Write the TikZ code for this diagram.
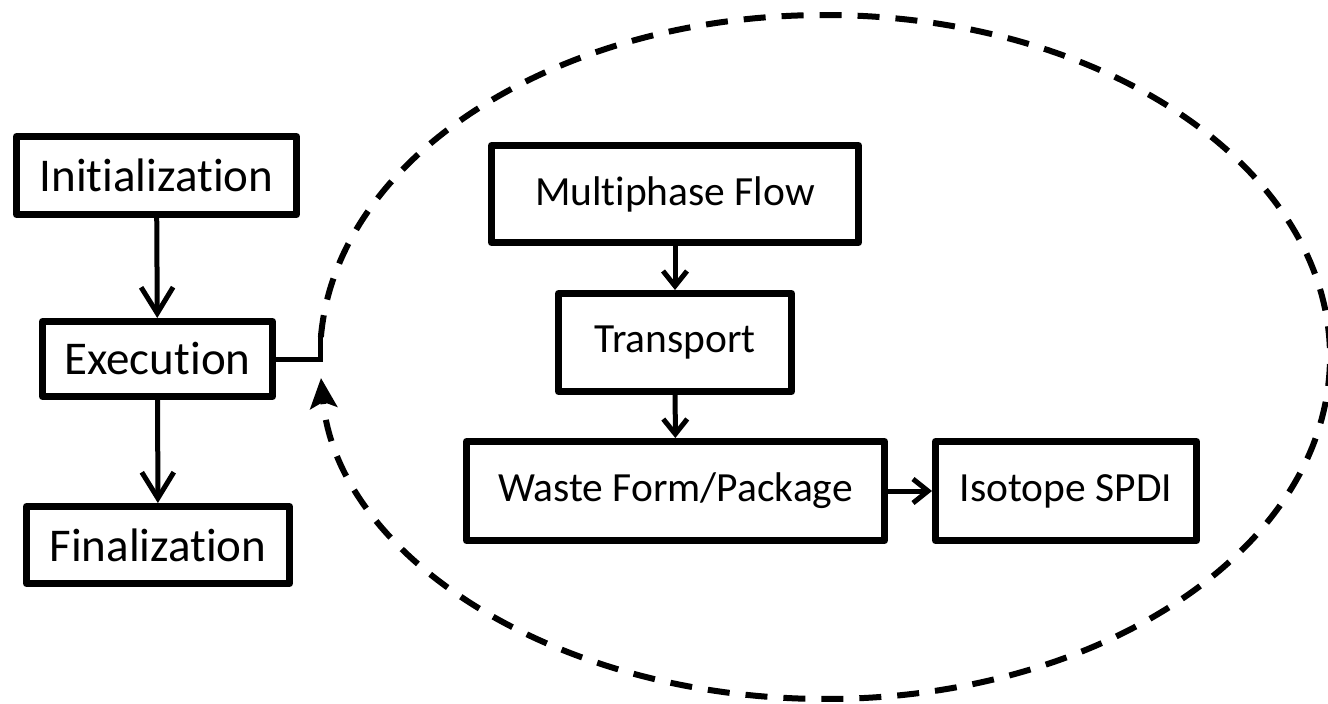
\documentclass[tikz,border=0pt]{standalone}
\usepackage{fontspec}
\setmainfont{Carlito}[Ligatures={NoCommon}]
\usetikzlibrary{arrows.meta}
\newcommand{\nolig}{\kern0pt }
\begin{document}
\begin{tikzpicture}[x=1pt,y=-1pt,
  box/.style={draw=black,line width=7pt,line join=round,inner sep=0pt,align=center},
  outerbox/.style={box,font=\fontsize{47}{50}\selectfont},
  innerbox/.style={box,font=\fontsize{41.5}{44}\selectfont},
  bigarrow/.style={line width=5pt,-{Straight Barb[length=26pt,width=32pt,line width=5pt]}},
  smallarrow/.style={line width=5pt,-{Straight Barb[length=15pt,width=24pt,line width=5pt]}},
  loop/.style={line width=6pt,dash pattern=on 22pt off 16pt,-{Stealth[length=30pt,width=27pt,inset=6pt]}}
]
\useasboundingbox (0,0) rectangle (1328,704);
\node[outerbox,minimum width=280pt,minimum height=78pt] (init) at (156.5,175.5) {Init\nolig ializat\nolig ion};
\node[outerbox,minimum width=230pt,minimum height=75pt] (exec) at (157.5,359) {Execut\nolig ion};
\node[outerbox,minimum width=263pt,minimum height=77pt] (final) at (158,545) {Finalizat\nolig ion};
\node[innerbox,minimum width=367pt,minimum height=97pt] (mf) at (675,194) {Multiphase Flow};
\node[innerbox,minimum width=233pt,minimum height=98pt] (tr) at (675,342.5) {Transport};
\node[innerbox,minimum width=418pt,minimum height=99pt] (wfp) at (675.5,491) {Waste Form/Package};
\node[innerbox,minimum width=261pt,minimum height=99pt] (spdi) at (1066,491) {Isotope SPDI};
\draw[bigarrow] (init) -- (exec);
\draw[bigarrow] (exec) -- (final);
\draw[smallarrow] (mf) -- (tr);
\draw[smallarrow] (tr) -- (wfp);
\draw[smallarrow] (wfp) -- (spdi);
\coordinate (c) at (825,357);
\path (c) ++(183.35:505 and 342) coordinate (ls);
\draw[line width=5pt] (exec.east) -| (ls);
\draw[loop] (ls) arc[start angle=183.35,end angle=536.48,x radius=505,y radius=342];
\end{tikzpicture}
\end{document}
